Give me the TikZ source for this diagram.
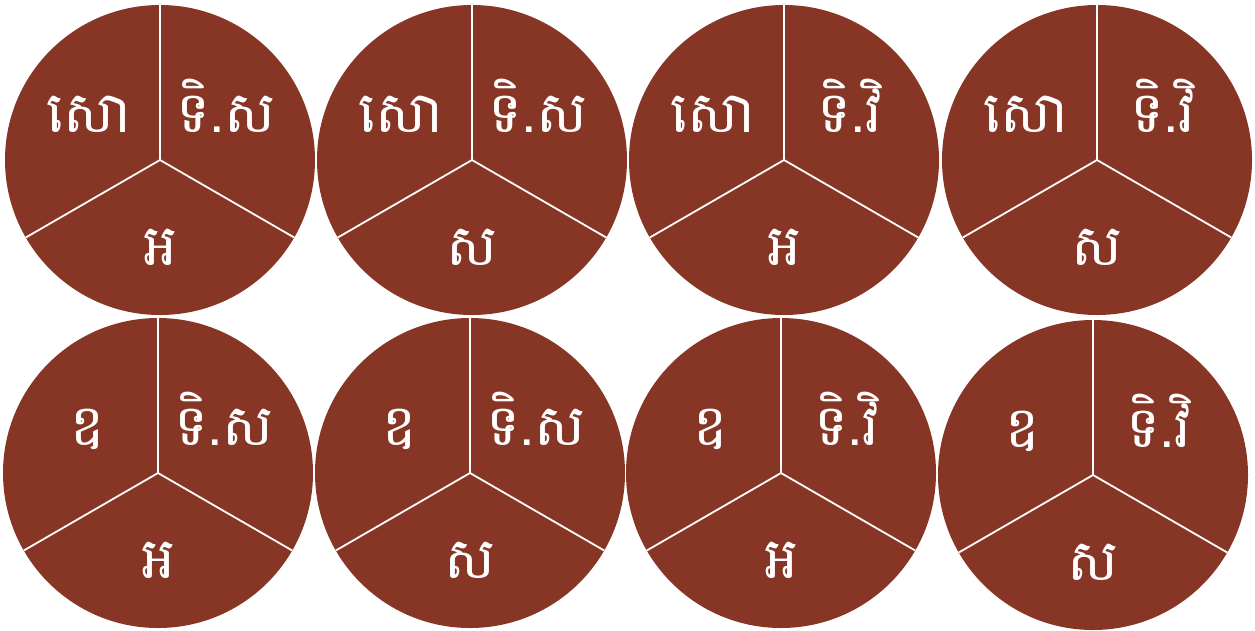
\documentclass[tikz,border=0pt]{standalone}
\usepackage{fontspec}
\newfontfamily\khmer[Script=Khmer]{Battambang}
\definecolor{pie}{HTML}{873525}
\tikzset{
  pieslice/.style={fill=pie, draw=none},
  divider/.style={draw=white, line width=1.8pt},
  lbl/.style={text=white, font=\khmer\fontsize{57}{60}\selectfont, anchor=base, inner sep=0pt}
}
\newcommand{\mypie}[6]{%
  \begin{scope}[shift={(#1,#2)}]
    \fill[pieslice] (0,0) circle[radius=155];
    \coordinate (c#6) at (0,0);
    \coordinate (t#6) at (0,-155);
    \draw[divider] (c#6) -- (t#6);
    \draw[divider] (c#6) -- ([shift={(-134.2,77.5)}]c#6);
    \draw[divider] (c#6) -- ([shift={(134.2,77.5)}]c#6);
    \node[lbl] (a#6) at (-71,-28) {#3};
    \node[lbl] (b#6) at (66,-28) {#4};
    \node[lbl] (d#6) at (0,105) {#5};
  \end{scope}}
\begin{document}
\begin{tikzpicture}[x=1pt,y=-1pt]
\useasboundingbox (0,0) rectangle (1255,630);
\mypie{160}{160}{សោ}{ទិ.ស}{អ}{p1}
\mypie{472}{160}{សោ}{ទិ.ស}{ស}{p2}
\mypie{784}{160}{សោ}{ទិ.វិ}{អ}{p3}
\mypie{1097}{160}{សោ}{ទិ.វិ}{ស}{p4}
\mypie{158}{473}{ឧ}{ទិ.ស}{អ}{p5}
\mypie{470}{473}{ឧ}{ទិ.ស}{ស}{p6}
\mypie{781}{473}{ឧ}{ទិ.វិ}{អ}{p7}
\mypie{1093}{475}{ឧ}{ទិ.វិ}{ស}{p8}
\end{tikzpicture}
\end{document}
